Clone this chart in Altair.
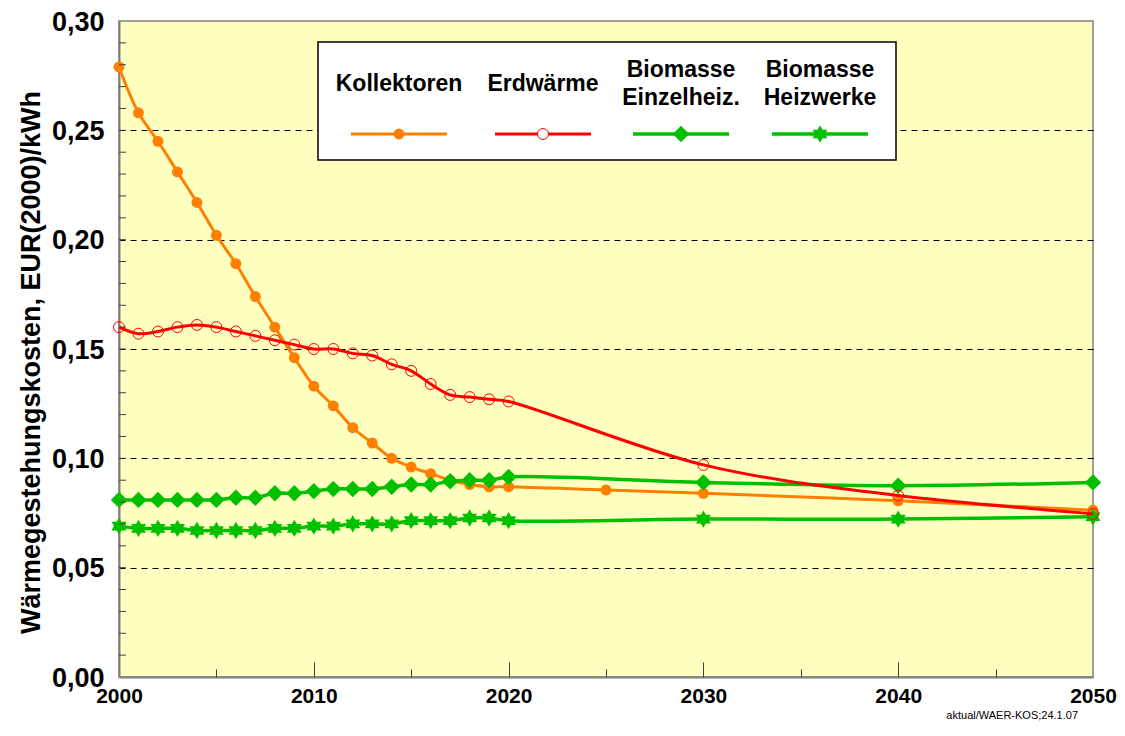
import altair as alt
import pandas as pd

# ---------------- data ----------------
kol_years = [2000, 2001, 2002, 2003, 2004, 2005, 2006, 2007, 2008, 2009, 2010,
             2011, 2012, 2013, 2014, 2015, 2016, 2017, 2018, 2019, 2020,
             2025, 2030, 2040, 2050]
kol_values = [0.279, 0.258, 0.245, 0.231, 0.217, 0.202, 0.189, 0.174, 0.160, 0.146, 0.133,
              0.124, 0.114, 0.107, 0.100, 0.096, 0.093, 0.090, 0.088, 0.087, 0.087,
              0.0855, 0.084, 0.0806, 0.0763]

erd_years = [2000, 2001, 2002, 2003, 2004, 2005, 2006, 2007, 2008, 2009, 2010,
             2011, 2012, 2013, 2014, 2015, 2016, 2017, 2018, 2019, 2020,
             2030, 2040, 2050]
erd_values = [0.160, 0.157, 0.158, 0.160, 0.161, 0.160, 0.158, 0.156, 0.154, 0.152, 0.150,
              0.150, 0.148, 0.147, 0.143, 0.140, 0.134, 0.129, 0.128, 0.127, 0.126,
              0.097, 0.083, 0.0746]

einzel_years = erd_years
einzel_values = [0.081, 0.081, 0.081, 0.081, 0.081, 0.081, 0.082, 0.082, 0.084, 0.084, 0.085,
                 0.086, 0.086, 0.086, 0.087, 0.088, 0.088, 0.0895, 0.090, 0.090, 0.0915,
                 0.089, 0.0875, 0.089]

heiz_years = erd_years
heiz_values = [0.069, 0.068, 0.068, 0.068, 0.067, 0.067, 0.067, 0.067, 0.068, 0.068, 0.069,
               0.069, 0.070, 0.070, 0.070, 0.0715, 0.0715, 0.0715, 0.0727, 0.0727, 0.0715,
               0.0722, 0.0722, 0.0733]

series_names = ["Kollektoren", "Erdwärme", "Biomasse Einzelheiz.", "Biomasse Heizwerke"]
legend_lines = [["Kollektoren"], ["Erdwärme"], ["Biomasse", "Einzelheiz."], ["Biomasse", "Heizwerke"]]

x_label_values = [2000, 2010, 2020, 2030, 2040, 2050]
y_label_values = [0.0, 0.05, 0.10, 0.15, 0.20, 0.25, 0.30]
y_minor_ticks = [round(0.01 * i, 2) for i in range(1, 30)]
x_major_ticks = [2010, 2020, 2030, 2040]
x_minor_ticks = [2005, 2015, 2025, 2035, 2045]

y_title = "Wärmegestehungskosten, EUR(2000)/kWh"
footnote = "aktual/WAER-KOS;24.1.07"

# ---------------- styling ----------------
W, H = 974, 656
STAR = "M0,-1L0.866,0.5L-0.866,0.5Z M0,1L-0.866,-0.5L0.866,-0.5Z"
ORANGE, RED, GREEN = "#FF8000", "#FF0000", "#00C000"
INTERP = "catmull-rom"

styles = [
    dict(color=ORANGE, width=3, shape="circle", filled=True, size=120),
    dict(color=RED, width=3, shape="circle", filled=False, size=120),
    dict(color=GREEN, width=3.5, shape="diamond", filled=True, size=270),
    dict(color=GREEN, width=3.5, shape=STAR, filled=True, size=300),
]

x_scale = alt.Scale(domain=[2000, 2050], nice=False, zero=False)
y_scale = alt.Scale(domain=[0, 0.30], nice=False)

x_axis = alt.Axis(orient="bottom", values=x_label_values, format="d", title=None, labelFontSize=21,
                  labelFontWeight="bold", labelPadding=8, ticks=False, tickSize=0,
                  grid=False, domainColor="#808080", domainWidth=2, labelColor="black",
                  labelFlush=False, labelOverlap=False)
y_axis = alt.Axis(orient="left", values=y_label_values,
                  labelExpr="replace(format(datum.value, '.2f'), '.', ',')",
                  title=y_title, titleFontSize=27, titleFontWeight="bold", titleAngle=270,
                  titleX=-88, titleY=341, titleAlign="center", titleBaseline="middle",
                  titleColor="black",
                  labelFontSize=27, labelFontWeight="bold", labelPadding=15, labelColor="black",
                  labelOffset=1,
                  ticks=False, tickSize=0, domainColor="#808080", domainWidth=2,
                  labelOverlap=False, labelFlush=False,
                  grid=True, gridColor="black", gridWidth=1, gridDash=[6, 5],
                  gridOpacity={"condition": {"test": "datum.value < 0.01 || datum.value > 0.29",
                                             "value": 0}, "value": 1})


def tick_axis(values, length):
    # inward ticks: axis shifted into the plot, ticks pointing back to the edge
    return alt.Axis(orient="bottom", values=values, offset=-length, tickSize=length,
                    ticks=True, tickColor="#404040", tickWidth=1, labels=False,
                    domain=False, grid=False, title=None)


XN = lambda f: alt.X(f, scale=x_scale, axis=None)
YN = lambda f: alt.Y(f, scale=y_scale, axis=None)

dummy = pd.DataFrame({"k": [0]})

all_years = [kol_years, erd_years, einzel_years, heiz_years]
all_values = [kol_values, erd_values, einzel_values, heiz_values]


def series_layers(i, with_axes=False):
    df = pd.DataFrame({"year": all_years[i], "value": all_values[i]})
    st = styles[i]
    if with_axes:
        xe = alt.X("year:Q", scale=x_scale, axis=x_axis)
        ye = alt.Y("value:Q", scale=y_scale, axis=y_axis)
    else:
        xe, ye = XN("year:Q"), YN("value:Q")
    line = alt.Chart(df).mark_line(color=st["color"], strokeWidth=st["width"],
                                   interpolate=INTERP).encode(x=xe, y=ye)
    pt_kwargs = dict(shape=st["shape"], size=st["size"], opacity=1)
    if st["filled"]:
        pt_kwargs.update(filled=True, color=st["color"], strokeWidth=0)
    else:
        pt_kwargs.update(filled=False, color=st["color"], strokeWidth=1)
    pts = alt.Chart(df).mark_point(**pt_kwargs).encode(x=XN("year:Q"), y=YN("value:Q"))
    return [line, pts]


data_layers = []
data_layers += series_layers(0, with_axes=True)
data_layers += series_layers(3)
data_layers += series_layers(2)
data_layers += series_layers(1)

# inward ticks
y_ticks = alt.Chart(pd.DataFrame({"v": y_minor_ticks})).mark_rule(
    color="#404040", strokeWidth=1
).encode(y=YN("v:Q"), x=alt.value(0), x2=alt.value(7))
x_ticks_major = alt.Chart(pd.DataFrame({"v": x_major_ticks})).mark_point(
    opacity=0, size=1
).encode(x=alt.X("v:Q", scale=x_scale, axis=tick_axis(x_major_ticks, 15)), y=alt.value(H))
x_ticks_minor = alt.Chart(pd.DataFrame({"v": x_minor_ticks})).mark_point(
    opacity=0, size=1
).encode(x=alt.X("v:Q", scale=x_scale, axis=tick_axis(x_minor_ticks, 8)), y=alt.value(H))

# legend (custom)
OY = 21  # page offset of plot top
legend_box = alt.Chart(dummy).mark_rect(fill="white", stroke="black", strokeWidth=1.5).encode(
    x=alt.value(199), x2=alt.value(777), y=alt.value(42 - OY), y2=alt.value(160 - OY))

legend_centers = [280, 424, 562, 701]
legend_layers = [legend_box]
for i in range(4):
    st = styles[i]
    cx = legend_centers[i]
    legend_layers.append(alt.Chart(dummy).mark_rule(color=st["color"], strokeWidth=st["width"]).encode(
        x=alt.value(cx - 48), x2=alt.value(cx + 48), y=alt.value(134 - OY)))
    pt_kwargs = dict(shape=st["shape"], size=st["size"], opacity=1)
    if st["filled"]:
        pt_kwargs.update(filled=True, color=st["color"], strokeWidth=0)
    else:
        pt_kwargs.update(filled=False, color=st["color"], strokeWidth=1, fill="white")
    legend_layers.append(alt.Chart(dummy).mark_point(**pt_kwargs).encode(
        x=alt.value(cx), y=alt.value(134 - OY)))
    lines = legend_lines[i]
    ys = [84 - OY] if len(lines) == 1 else [70 - OY, 98 - OY]
    for txt, yy in zip(lines, ys):
        legend_layers.append(alt.Chart(dummy).mark_text(
            fontSize=23, fontWeight="bold", align="center", baseline="middle", color="black"
        ).encode(x=alt.value(cx), y=alt.value(yy), text=alt.value(txt)))

foot = alt.Chart(dummy).mark_text(fontSize=11, align="right", baseline="middle", color="black").encode(
    x=alt.value(959), y=alt.value(716 - OY), text=alt.value(footnote))

chart = alt.layer(
    *data_layers, y_ticks, x_ticks_major, x_ticks_minor, *legend_layers, foot
).resolve_axis(
    x="independent", y="independent"
).properties(
    width=W, height=H,
    autosize=alt.AutoSizeParams(type="none"),
    padding={"left": 111, "top": 13, "right": 24, "bottom": 51},
    background="white",
).configure(font="Liberation Sans").configure_view(
    fill="#FFFFC0", stroke="#808080", strokeWidth=1.5
)

chart.save("out.html", embed_options={"renderer": "svg", "actions": False})
